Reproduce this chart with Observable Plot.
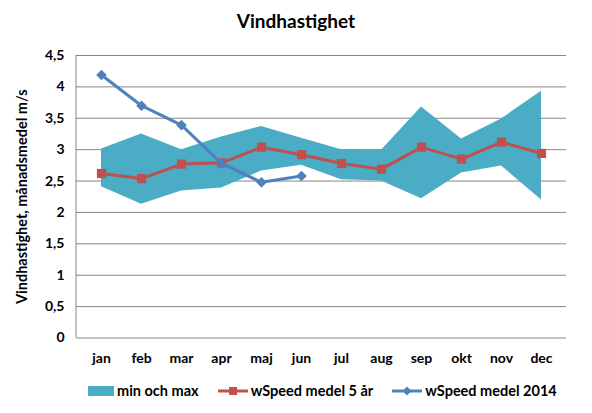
<!DOCTYPE html>
<html><head><meta charset="utf-8">
<script src="https://cdn.jsdelivr.net/npm/d3@7"></script>
<script src="https://cdn.jsdelivr.net/npm/@observablehq/plot@0.6"></script>
<style>
body{margin:0;background:#fff;font-family:Lato,"Open Sans",sans-serif;}
#wrap{position:relative;width:592px;height:413px;overflow:hidden;background:#fff}
#chart{position:absolute;top:0;left:0}
#title{position:absolute;top:9px;left:0;width:592px;text-align:center;font-weight:bold;font-size:19px;color:#000}
#legend{position:absolute;top:382px;left:88px;display:flex;align-items:center;font-weight:bold;font-size:14.5px;color:#000;white-space:nowrap}
#legend .item{display:flex;align-items:center;margin-right:19px}
#legend svg{margin-right:3px}
</style></head><body>
<div id="wrap"><div id="chart"></div><div id="title">Vindhastighet</div><div id="legend"></div></div>
<script>
const months = ["jan","feb","mar","apr","maj","jun","jul","aug","sep","okt","nov","dec"];
const maxValues = [3.01, 3.25, 3.00, 3.20, 3.37, 3.18, 3.00, 2.99, 3.68, 3.17, 3.49, 3.93];
const minValues = [2.41, 2.13, 2.34, 2.39, 2.66, 2.75, 2.52, 2.50, 2.22, 2.63, 2.74, 2.20];
const medel5ar = [2.62, 2.54, 2.77, 2.79, 3.04, 2.92, 2.78, 2.69, 3.04, 2.85, 3.12, 2.94];
const medel2014 = [4.19, 3.70, 3.39, 2.78, 2.48, 2.58];
const yTicks = [0, 0.5, 1, 1.5, 2, 2.5, 3, 3.5, 4, 4.5];
const legendLabels = ["min och max", "wSpeed medel 5 år", "wSpeed medel 2014"];

const bandColor = "#4BACC6", redColor = "#C0504D", blueColor = "#4F81BD";

const band = months.map((m, i) => ({month: m, lo: minValues[i], hi: maxValues[i]}));
const red = months.map((m, i) => ({month: m, v: medel5ar[i]}));
const blue = medel2014.map((v, i) => ({month: months[i], v}));

const chart = Plot.plot({
  width: 592,
  height: 413,
  marginLeft: 76,
  marginRight: 26,
  marginTop: 55,
  marginBottom: 75.5,
  style: {fontFamily: "Lato, 'Open Sans', sans-serif", fontSize: "14px", fontWeight: "bold", color: "#000", background: "transparent"},
  x: {type: "point", domain: months, padding: 0.5},
  y: {domain: [0, 4.5]},
  marks: [
    Plot.ruleY(yTicks, {stroke: "#868686", strokeWidth: 1, strokeOpacity: 1}),
    Plot.axisY({ticks: yTicks, tickSize: 0, tickPadding: 12, tickFormat: d => String(d).replace(".", ","), label: null}),
    Plot.axisY({ticks: [], tickSize: 0, label: "Vindhastighet, månadsmedel m/s", labelAnchor: "center", labelOffset: 60, labelArrow: false, fontSize: 14.5}),
    Plot.axisX({tickSize: 0, tickPadding: 15, label: null}),
    Plot.areaY(band, {x: "month", y1: "lo", y2: "hi", fill: bandColor, fillOpacity: 1}),
    Plot.line(red, {x: "month", y: "v", stroke: redColor, strokeWidth: 3}),
    Plot.dot(red, {x: "month", y: "v", symbol: "square", r: 5.2, fill: redColor, stroke: "none"}),
    Plot.line(blue, {x: "month", y: "v", stroke: blueColor, strokeWidth: 3}),
    Plot.dot(blue, {x: "month", y: "v", symbol: "diamond2", r: 4.8, fill: blueColor, stroke: "none"})
  ]
});
document.getElementById("chart").appendChild(chart);

// y-axis line using the plot's own scales
const xs = chart.scale("x"), ys = chart.scale("y");
d3.select(chart).append("line")
  .attr("x1", xs.range[0]).attr("x2", xs.range[0])
  .attr("y1", ys.apply(0)).attr("y2", ys.apply(4.5))
  .attr("stroke", "#868686").attr("stroke-width", 1);

// legend
const leg = d3.select("#legend");
const it1 = leg.append("div").attr("class", "item");
it1.append("svg").attr("width", 26).attr("height", 10).append("rect").attr("width", 26).attr("height", 10).attr("fill", bandColor);
it1.append("span").text(legendLabels[0]);
const it2 = leg.append("div").attr("class", "item");
const s2 = it2.append("svg").attr("width", 30).attr("height", 12);
s2.append("line").attr("x1", 0).attr("x2", 30).attr("y1", 6).attr("y2", 6).attr("stroke", redColor).attr("stroke-width", 3);
s2.append("rect").attr("x", 11).attr("y", 2).attr("width", 8).attr("height", 8).attr("fill", redColor);
it2.append("span").text(legendLabels[1]);
const it3 = leg.append("div").attr("class", "item");
const s3 = it3.append("svg").attr("width", 30).attr("height", 12);
s3.append("line").attr("x1", 0).attr("x2", 30).attr("y1", 6).attr("y2", 6).attr("stroke", blueColor).attr("stroke-width", 3);
s3.append("path").attr("d", "M15,1.5L19.5,6L15,10.5L10.5,6Z").attr("fill", blueColor);
it3.append("span").text(legendLabels[2]);
</script>
</body></html>
